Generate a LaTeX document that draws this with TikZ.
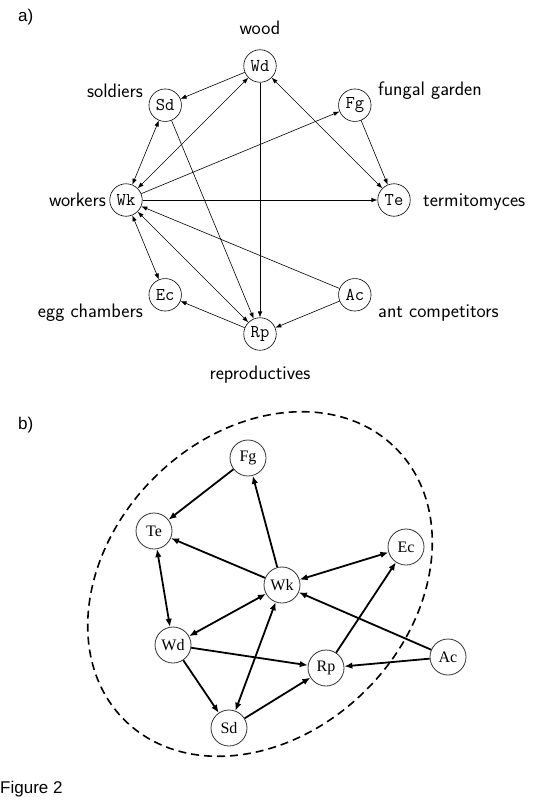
\documentclass[tikz,border=0pt]{standalone}
\usepackage{fontspec}
\newfontfamily\arialf{Liberation Sans}
\newfontfamily\serifb{Liberation Serif}
\usetikzlibrary{arrows.meta}
\begin{document}
\begin{tikzpicture}[x=1pt,y=-1pt,
  na/.style={circle,draw,line width=0.6pt,minimum size=32.5pt,inner sep=0pt,font=\ttfamily\fontsize{18}{20}\selectfont},
  nb/.style={circle,draw=black!80,line width=0.8pt,minimum size=36pt,inner sep=0pt,font=\serifb\fontsize{16}{18}\selectfont},
  lab/.style={inner sep=0pt,font=\sffamily\fontsize{19.5}{21}\selectfont},
  tag/.style={inner sep=0pt,anchor=base west,font=\arialf\fontsize{17}{19}\selectfont},
  ea/.style={line width=0.6pt,-{Latex[length=6pt,width=4.5pt]}},
  eab/.style={line width=0.6pt,{Latex[length=6pt,width=4.5pt]}-{Latex[length=6pt,width=4.5pt]}},
  eb/.style={line width=1.8pt,-{Latex[length=8pt,width=6.5pt]}},
  ebb/.style={line width=1.8pt,{Latex[length=8pt,width=6.5pt]}-{Latex[length=8pt,width=6.5pt]}},
  ring/.style={line width=1.6pt,dash pattern=on 8pt off 5pt}
]
\useasboundingbox[fill=white] (0,0) rectangle (533,800);

% ---- labels
\node[tag] (ta) at (18,22) {a)};
\node[tag] (tb) at (18,429) {b)};
\node[tag] (tf) at (0,793) {Figure 2};

% ---- part a
\node[na] (aWd) at (260,66) {Wd};
\node[na] (aSd) at (165.2,105.2) {Sd};
\node[na] (aFg) at (354.8,105.2) {Fg};
\node[na] (aWk) at (126,200) {Wk};
\node[na] (aTe) at (394,200) {Te};
\node[na] (aEc) at (165.2,294.8) {Ec};
\node[na] (aAc) at (354.8,294.8) {Ac};
\node[na] (aRp) at (260,334) {Rp};

\node[lab,anchor=base] (lwd) at (260,35) {wood};
\node[lab,anchor=base east] (lsd) at (143,97) {soldiers};
\node[lab,anchor=base west] (lfg) at (378,95) {fungal garden};
\node[lab,anchor=base east] (lwk) at (106,206) {workers};
\node[lab,anchor=base west] (lte) at (423,206) {termitomyces};
\node[lab,anchor=base east] (lec) at (143,317) {egg chambers};
\node[lab,anchor=base west] (lac) at (378,317) {ant competitors};
\node[lab,anchor=base] (lrp) at (260,379) {reproductives};

\draw[ea] (aWd) -- (aSd);
\draw[eab] (aWd) -- (aWk);
\draw[eab] (aWd) -- (aTe);
\draw[ea] (aWd) -- (aRp);
\draw[eab] (aSd) -- (aWk);
\draw[ea] (aSd) -- (aRp);
\draw[ea] (aWk) -- (aFg);
\draw[ea] (aFg) -- (aTe);
\draw[ea] (aWk) -- (aTe);
\draw[ea] (aAc) -- (aWk);
\draw[ea] (aAc) -- (aRp);
\draw[ea] (aRp) -- (aEc);
\draw[eab] (aWk) -- (aEc);
\draw[eab] (aWk) -- (aRp);

% ---- part b
\draw[ring,rotate around={45:(260,584)}] (260,584) ellipse [x radius=192, y radius=150];

\node[nb] (bFg) at (248,458) {Fg};
\node[nb] (bTe) at (154,531) {Te};
\node[nb] (bEc) at (406,547) {Ec};
\node[nb] (bWk) at (282,585) {Wk};
\node[nb] (bWd) at (173,645) {Wd};
\node[nb] (bRp) at (326,668) {Rp};
\node[nb] (bAc) at (448,657) {Ac};
\node[nb] (bSd) at (229,728) {Sd};

\draw[eb] (bFg) -- (bTe);
\draw[eb] (bWk) -- (bFg);
\draw[eb] (bWk) -- (bTe);
\draw[ebb] (bWk) -- (bEc);
\draw[eb] (bAc) -- (bWk);
\draw[eb] (bAc) -- (bRp);
\draw[eb] (bRp) -- (bEc);
\draw[ebb] (bWd) -- (bWk);
\draw[eb] (bWd) -- (bRp);
\draw[eb] (bWd) -- (bSd);
\draw[ebb] (bSd) -- (bWk);
\draw[eb] (bSd) -- (bRp);
\draw[ebb] (bTe) -- (bWd);
\end{tikzpicture}
\end{document}
